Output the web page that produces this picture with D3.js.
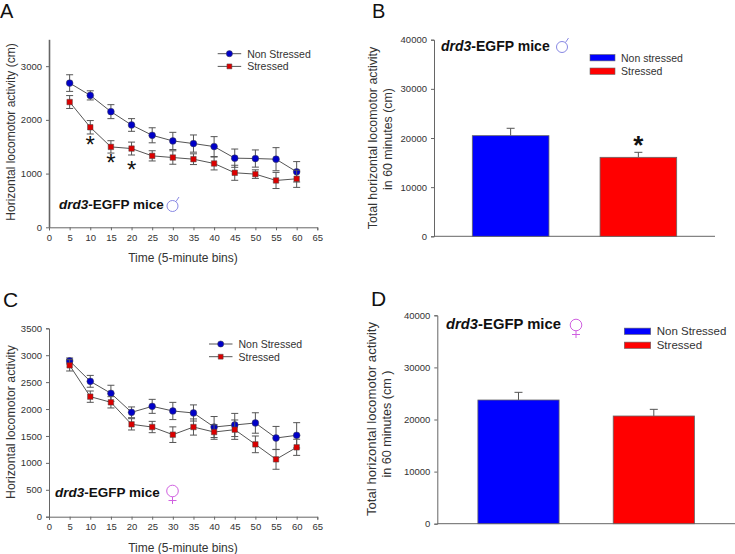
<!DOCTYPE html>
<html>
<head>
<meta charset="utf-8">
<script src="https://cdn.jsdelivr.net/npm/d3@7"></script>
<style>
  body { margin: 0; background: #fff; }
  svg { display: block; font-family: "Liberation Sans", Arial, sans-serif; }
</style>
</head>
<body>
<div id="chart"></div>
<script>
var minutes = [5, 10, 15, 20, 25, 30, 35, 40, 45, 50, 55, 60];

var maleNon = [2685, 2456, 2153, 1905, 1713, 1608, 1559, 1503, 1287, 1280, 1268, 1033];
var maleNonErr = [155, 85, 130, 118, 140, 160, 160, 185, 170, 160, 215, 190];
var maleStr = [2332, 1862, 1497, 1466, 1330, 1299, 1268, 1188, 1015, 990, 872, 903];
var maleStrErr = [120, 125, 115, 120, 95, 125, 100, 120, 140, 80, 150, 160];

var femaleNon = [2893, 2515, 2292, 1939, 2050, 1964, 1927, 1666, 1704, 1741, 1462, 1512];
var femaleNonErr = [55, 110, 150, 100, 130, 160, 150, 195, 215, 190, 215, 235];
var femaleStr = [2812, 2230, 2125, 1716, 1666, 1524, 1666, 1573, 1617, 1344, 1066, 1289];
var femaleStrErr = [105, 105, 105, 105, 105, 145, 150, 135, 180, 155, 185, 150];

var groupsB = ["Non stressed", "Stressed"];
var groupsD = ["Non Stressed", "Stressed"];
var totalsMale = [20475, 16070];
var totalsMaleErr = [1500, 1015];
var totalsFemale = [23744, 20672];
var totalsFemaleErr = [1470, 1280];

var xTicks = d3.range(0, 70, 5);
var yTicksA = [0, 1000, 2000, 3000];
var yTicksC = [0, 500, 1000, 1500, 2000, 2500, 3000, 3500];
var yTicksBars = [0, 10000, 20000, 30000, 40000];

var ink = "#333", axisGrey = "#666";
var maleColor = "#7a7ae0", femaleColor = "#d060e0";

var svg = d3.select("#chart").append("svg")
    .attr("width", 735)
    .attr("height", 554);

function label(x, y, str, size, opts) {
  opts = opts || {};
  return svg.append("text")
    .attr("x", x)
    .attr("y", y)
    .attr("font-size", size)
    .attr("fill", opts.fill || ink)
    .attr("font-weight", opts.weight || null)
    .attr("text-anchor", opts.anchor || null)
    .text(str);
}

function vtitle(x, y, str, size) {
  svg.append("text")
    .attr("transform", "translate(" + x + "," + y + ") rotate(-90)")
    .attr("text-anchor", "middle")
    .attr("font-size", size)
    .attr("fill", ink)
    .text(str);
}

function miceLabel(x, y, size) {
  var t = svg.append("text")
    .attr("x", x)
    .attr("y", y)
    .attr("font-size", size)
    .attr("font-weight", "bold")
    .attr("fill", "#111");
  t.append("tspan").attr("font-style", "italic").text("drd3");
  t.append("tspan").text("-EGFP mice");
}

// thin outlined symbols, the glyphs in the fonts are too heavy
function maleSign(cx, cy) {
  var g = svg.append("g").attr("fill", "none").attr("stroke", maleColor).attr("stroke-width", 0.9);
  g.append("ellipse").attr("cx", cx).attr("cy", cy).attr("rx", 5.5).attr("ry", 5.5);
  g.append("path").attr("d", "M" + (cx + 3.5) + "," + (cy - 4.5) + "L" + (cx + 6.5) + "," + (cy - 9));
}

function femaleSign(cx, cy) {
  var g = svg.append("g").attr("fill", "none").attr("stroke", femaleColor).attr("stroke-width", 1);
  g.append("circle").attr("cx", cx).attr("cy", cy).attr("r", 5.8);
  g.append("path").attr("d", "M" + cx + "," + (cy + 5.8) + "V" + (cy + 13) + "M" + (cx - 4) + "," + (cy + 9.5) + "H" + (cx + 4));
}

function styleAxis(g, width) {
  g.selectAll("path.domain").attr("stroke", axisGrey).attr("stroke-width", width);
  g.selectAll(".tick line").attr("stroke", axisGrey);
  g.selectAll(".tick text").attr("fill", ink).attr("font-size", 9.5).attr("font-family", "Liberation Sans");
}

function linePanel(p) {
  var x = d3.scaleLinear().domain([0, 65]).range([49, 317.3]);
  var y = d3.scaleLinear().domain([0, 3500]).range([p.y0, p.y1]);

  var gx = svg.append("g")
      .attr("transform", "translate(0," + p.y0 + ")")
      .call(d3.axisBottom(x).tickValues(xTicks).tickSize(3).tickPadding(4));
  styleAxis(gx, 1);

  var gy = svg.append("g")
      .attr("transform", "translate(49,0)")
      .call(d3.axisLeft(y).tickValues(p.yTicks).tickFormat(d3.format("d")).tickSize(3).tickSizeOuter(p.yTicks.includes(3500) ? 3 : 0).tickPadding(4));
  styleAxis(gy, p.yWidth);

  var series = [
    {vals: p.non, errs: p.nonErr, color: "#0000c8", square: false},
    {vals: p.str, errs: p.strErr, color: "#dc0000", square: true}
  ];

  var line = d3.line().x(function(d, i) { return x(minutes[i]); }).y(function(d) { return y(d); });

  series.forEach(function(s) {
    svg.append("g").attr("stroke", "#555").attr("stroke-width", 1)
      .selectAll("path").data(s.vals).enter().append("path")
      .attr("fill", "none")
      .attr("d", function(d, i) {
        var cx = x(minutes[i]), hi = y(d + s.errs[i]), lo = y(d - s.errs[i]);
        return "M" + (cx - 3.5) + "," + hi + "H" + (cx + 3.5) + "M" + cx + "," + hi + "V" + lo + "M" + (cx - 3.5) + "," + lo + "H" + (cx + 3.5);
      });

    svg.append("path").datum(s.vals)
      .attr("fill", "none")
      .attr("stroke", "#555")
      .attr("stroke-width", 1)
      .attr("d", line);

    svg.append("g").selectAll("path").data(s.vals).enter().append("path")
      .attr("transform", function(d, i) { return "translate(" + x(minutes[i]) + "," + y(d) + ")"; })
      .attr("d", d3.symbol().type(s.square ? d3.symbolSquare : d3.symbolCircle).size(s.square ? 30 : 36))
      .attr("fill", s.color)
      .attr("stroke", "#444")
      .attr("stroke-width", 0.5);
  });

  // legend
  [["Non Stressed", series[0]], ["Stressed", series[1]]].forEach(function(l, i) {
    var ly = p.legY + i * 12.7;
    svg.append("line").attr("x1", p.legX).attr("x2", p.legX + 23.5).attr("y1", ly).attr("y2", ly)
      .attr("stroke", "#555");
    svg.append("path")
      .attr("transform", "translate(" + (p.legX + 11.7) + "," + ly + ")")
      .attr("d", d3.symbol().type(l[1].square ? d3.symbolSquare : d3.symbolCircle).size(l[1].square ? 24 : 30))
      .attr("fill", l[1].color)
      .attr("stroke", "#444")
      .attr("stroke-width", 0.5);
    label(p.legX + 29.5, ly + 3.8, l[0], 10.5);
  });

  // significance stars under the stressed points
  (p.stars || []).forEach(function(i) {
    label(x(minutes[i]), y(p.str[i] - p.strErr[i]) + p.starDy[i - 1], "*", 24, {anchor: "middle", fill: "#111"});
  });

  label(183, p.y0 + 35, "Time (5-minute bins)", 12, {anchor: "middle"});
}

function barPanel(p) {
  var x = d3.scaleBand().domain(p.groups).range([p.x0, p.x1]).paddingInner(0.4).paddingOuter(0.3);
  var y = d3.scaleLinear().domain([0, 40000]).range([p.y0, p.y1]);

  var gy = svg.append("g")
      .attr("transform", "translate(" + p.x0 + ",0)")
      .call(d3.axisLeft(y).tickValues(yTicksBars).tickFormat(d3.format("d")).tickSize(3).tickPadding(4));
  styleAxis(gy, 1);

  svg.append("line")
    .attr("x1", p.x0).attr("x2", p.x1)
    .attr("y1", p.y0).attr("y2", p.y0)
    .attr("stroke", axisGrey);

  var colors = ["#0000ff", "#ff0000"];

  p.groups.forEach(function(g, i) {
    var cx = x(g) + x.bandwidth() / 2;
    svg.append("path")
      .attr("fill", "none")
      .attr("stroke", "#555")
      .attr("d", "M" + cx + "," + y(p.vals[i]) + "V" + y(p.vals[i] + p.errs[i]) + "M" + (cx - 4) + "," + y(p.vals[i] + p.errs[i]) + "H" + (cx + 4));
    svg.append("rect")
      .attr("x", x(g))
      .attr("y", y(p.vals[i]))
      .attr("width", x.bandwidth())
      .attr("height", y(0) - y(p.vals[i]))
      .attr("fill", colors[i])
      .attr("stroke", "#666")
      .attr("stroke-width", 0.8);

    var ly = p.legY + i * p.legStep;
    svg.append("rect")
      .attr("x", p.legX).attr("y", ly - 3.2)
      .attr("width", p.legW).attr("height", 6.4)
      .attr("fill", colors[i])
      .attr("stroke", "#666")
      .attr("stroke-width", 0.6);
    label(p.legX + p.legW + 6, ly + 3.8, g, p.legSize);
  });

  if (p.star) {
    var sx = x(p.groups[1]) + x.bandwidth() / 2;
    label(sx, y(p.vals[1] + p.errs[1]) + 2, "*", 26, {anchor: "middle", weight: "bold", fill: "#111"});
  }
}

linePanel({
  y0: 227.3, y1: 39.3, yTicks: yTicksA, yWidth: 1.6,
  non: maleNon, nonErr: maleNonErr, str: maleStr, strErr: maleStrErr,
  legX: 217.7, legY: 53.7,
  stars: [1, 2, 3], starDy: [19, 18, 23]
});

linePanel({
  y0: 516.7, y1: 328.3, yTicks: yTicksC, yWidth: 1,
  non: femaleNon, nonErr: femaleNonErr, str: femaleStr, strErr: femaleStrErr,
  legX: 209, legY: 344
});

barPanel({
  x0: 434, x1: 715, y0: 236.3, y1: 39.7,
  groups: groupsB, vals: totalsMale, errs: totalsMaleErr,
  legX: 590, legY: 57.7, legW: 25, legStep: 13.5, legSize: 10.5, star: true
});

barPanel({
  x0: 437.3, x1: 735, y0: 523.7, y1: 315.3,
  groups: groupsD, vals: totalsFemale, errs: totalsFemaleErr,
  legX: 624.3, legY: 331.3, legW: 26.4, legStep: 14, legSize: 11.5
});

vtitle(15, 132, "Horizontal locomotor activity (cm)", 12);
vtitle(15, 422, "Horizontal locomotor activity", 12.3);
vtitle(377, 138, "Total horizontal locomotor activity", 12.4);
vtitle(392, 139, "in 60 minutes (cm)", 12.4);
vtitle(376, 419, "Total horizontal locomotor activity", 13.2);
vtitle(391, 424, "in 60 minutes (cm )", 12.6);

label(0, 18.2, "A", 20, {fill: "#111"});
label(372, 18.2, "B", 20, {fill: "#111"});
label(3, 307, "C", 21, {fill: "#111"});
label(371, 306, "D", 21, {fill: "#111"});

miceLabel(59, 209, 13.5);
miceLabel(55, 497, 13.5);
miceLabel(441, 51, 14);
miceLabel(446, 329, 14.8);

maleSign(172.5, 206);
femaleSign(172.5, 491);
maleSign(562, 47);
femaleSign(576, 325);
</script>
</body>
</html>
